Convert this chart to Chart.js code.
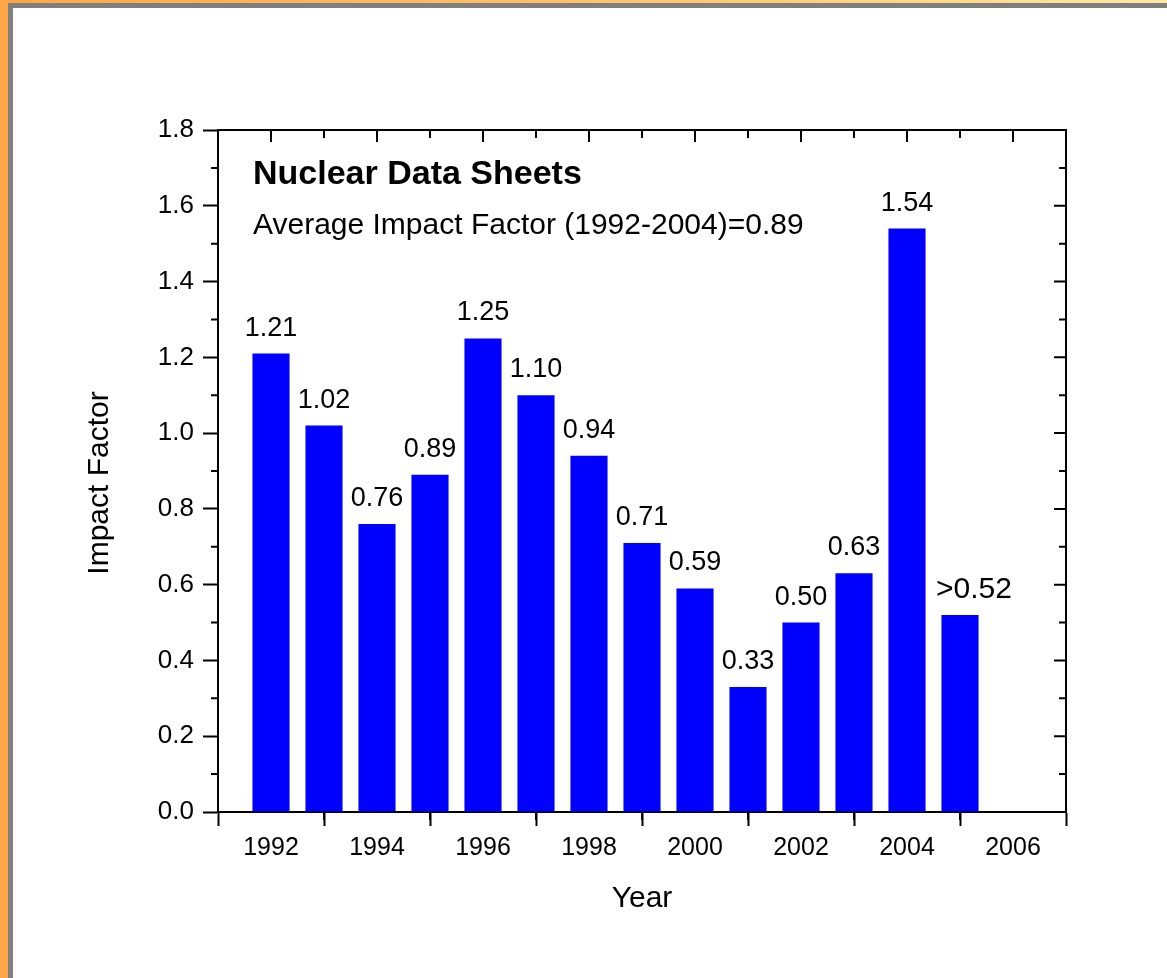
<!DOCTYPE html>
<html>
<head>
<meta charset="utf-8">
<script src="https://cdn.jsdelivr.net/npm/chart.js@4"></script>
<style>
  html, body { margin: 0; padding: 0; background: #ffffff; overflow: hidden; }
  #wrap { position: absolute; left: 0; top: 0; width: 1167px; height: 978px; }
  #c { position: absolute; left: 0; top: 0; }
  .b { position: absolute; }
  #topO { left: 0; top: 0; width: 1167px; height: 3px; background: linear-gradient(to right, #FFA646, #FFC870 60%, #FFE9A0); }
  #topG { left: 8px; top: 3px; width: 1159px; height: 5px; background: #7f7f7f; }
  #leftO { left: 0; top: 0; width: 8px; height: 978px; background: #FFA646; }
  #leftG { left: 8px; top: 3px; width: 5px; height: 975px; background: #7f7f7f; }
</style>
</head>
<body>
<div id="wrap">
  <canvas id="c" width="1167" height="978"></canvas>
  <div class="b" id="topO"></div>
  <div class="b" id="topG"></div>
  <div class="b" id="leftO"></div>
  <div class="b" id="leftG"></div>
</div>
<script>
// ---- data ----
const years = [1992, 1993, 1994, 1995, 1996, 1997, 1998, 1999, 2000, 2001, 2002, 2003, 2004, 2005];
const impactFactor = [1.21, 1.02, 0.76, 0.89, 1.25, 1.10, 0.94, 0.71, 0.59, 0.33, 0.50, 0.63, 1.54, 0.52];
const valueLabels = ['1.21', '1.02', '0.76', '0.89', '1.25', '1.10', '0.94', '0.71', '0.59', '0.33', '0.50', '0.63', '1.54', '>0.52'];
const xTickValues = [1992, 1994, 1996, 1998, 2000, 2002, 2004, 2006];
const xMinorValues = [1993, 1995, 1997, 1999, 2001, 2003, 2005];
const yTickValues = [0.0, 0.2, 0.4, 0.6, 0.8, 1.0, 1.2, 1.4, 1.6, 1.8];
const yMinorValues = [0.1, 0.3, 0.5, 0.7, 0.9, 1.1, 1.3, 1.5, 1.7];
const chartTitle = 'Nuclear Data Sheets';
const chartSubtitle = 'Average Impact Factor (1992-2004)=0.89';
const xTitle = 'Year';
const yTitle = 'Impact Factor';

const FONT = "'Liberation Sans', Arial, Helvetica, sans-serif";

const framePlugin = {
  id: 'frame',
  afterDatasetsDraw(chart) {
    const ctx = chart.ctx;
    const a = chart.chartArea;
    const xs = chart.scales.x, ys = chart.scales.y;
    ctx.save();
    ctx.strokeStyle = '#000';
    ctx.lineWidth = 2;
    ctx.lineCap = 'butt';
    // frame top and right
    ctx.beginPath();
    ctx.moveTo(a.left - 1, a.top);
    ctx.lineTo(a.right, a.top);
    ctx.lineTo(a.right, a.bottom + 1);
    ctx.stroke();
    ctx.beginPath();
    // bottom minor (outward) & top ticks (inward)
    xMinorValues.forEach(v => {
      const px = xs.getPixelForValue(v);
      ctx.moveTo(px, a.bottom); ctx.lineTo(px, a.bottom + 8);
      ctx.moveTo(px, a.top); ctx.lineTo(px, a.top + 8);
    });
    xTickValues.forEach(v => {
      const px = xs.getPixelForValue(v);
      ctx.moveTo(px, a.top); ctx.lineTo(px, a.top + 12);
    });
    // left minor (outward) & right ticks (inward)
    yMinorValues.forEach(v => {
      const py = ys.getPixelForValue(v);
      ctx.moveTo(a.left, py); ctx.lineTo(a.left - 7, py);
      ctx.moveTo(a.right, py); ctx.lineTo(a.right - 7, py);
    });
    yTickValues.forEach(v => {
      const py = ys.getPixelForValue(v);
      ctx.moveTo(a.right, py); ctx.lineTo(a.right - 12, py);
    });
    ctx.stroke();

    // annotations
    ctx.fillStyle = '#000';
    ctx.textAlign = 'left';
    ctx.textBaseline = 'alphabetic';
    ctx.font = 'bold 34px ' + FONT;
    ctx.fillText(chartTitle, a.left + 35, a.top + 54);
    ctx.font = '30px ' + FONT;
    ctx.fillText(chartSubtitle, a.left + 35, a.top + 104);

    // y-axis title (drawn rotated, slightly below the plot centre as in the reference)
    ctx.save();
    ctx.translate(a.left - 118, (a.top + a.bottom) / 2 + 12);
    ctx.rotate(-Math.PI / 2);
    ctx.textAlign = 'center';
    ctx.textBaseline = 'middle';
    ctx.font = '30px ' + FONT;
    ctx.fillText(yTitle, 0, 0);
    ctx.restore();

    // value labels above bars
    const meta = chart.getDatasetMeta(0);
    meta.data.forEach((bar, i) => {
      const txt = valueLabels[i];
      if (txt.charAt(0) === '>') {
        ctx.font = '30px ' + FONT;
        ctx.textAlign = 'left';
        ctx.fillText(txt, bar.x - 24, bar.y - 17);
      } else {
        ctx.font = '27px ' + FONT;
        ctx.textAlign = 'center';
        ctx.fillText(txt, bar.x, bar.y - 18);
      }
    });
    ctx.restore();
  }
};

new Chart(document.getElementById('c'), {
  type: 'bar',
  data: {
    datasets: [{
      data: years.map((y, i) => ({ x: y, y: impactFactor[i] })),
      backgroundColor: '#0000FF',
      borderWidth: 0,
      barPercentage: 0.7,
      categoryPercentage: 1.0
    }]
  },
  options: {
    responsive: false,
    animation: false,
    devicePixelRatio: 1,
    layout: { padding: { left: 60, top: 130, right: 101, bottom: 40 } },
    plugins: { legend: { display: false }, tooltip: { enabled: false }, title: { display: false } },
    scales: {
      x: {
        type: 'linear',
        min: 1991, max: 2007,
        offset: false,
        afterFit: s => { s.height = 126; },
        afterBuildTicks: s => { s.ticks = xTickValues.map(v => ({ value: v })); },
        grid: { display: true, drawOnChartArea: false, drawTicks: true, tickLength: 14, tickWidth: 2, tickColor: '#000' },
        border: { display: true, color: '#000', width: 2 },
        ticks: { color: '#000', font: { family: FONT, size: 25 }, padding: 7, maxRotation: 0, autoSkip: false, callback: v => String(v) },
        title: { display: true, text: xTitle, color: '#000', font: { family: FONT, size: 30 }, padding: { top: 0, bottom: 21 } }
      },
      y: {
        type: 'linear',
        min: 0, max: 1.8,
        afterFit: s => { s.width = 158; },
        afterBuildTicks: s => { s.ticks = yTickValues.map(v => ({ value: v })); },
        grid: { display: true, drawOnChartArea: false, drawTicks: true, tickLength: 15, tickWidth: 2, tickColor: '#000' },
        border: { display: true, color: '#000', width: 2 },
        ticks: { color: '#000', font: { family: FONT, size: 26 }, padding: 9, autoSkip: false, callback: v => Number(v).toFixed(1) },
        title: { display: false }
      }
    }
  },
  plugins: [framePlugin]
});
</script>
</body>
</html>
